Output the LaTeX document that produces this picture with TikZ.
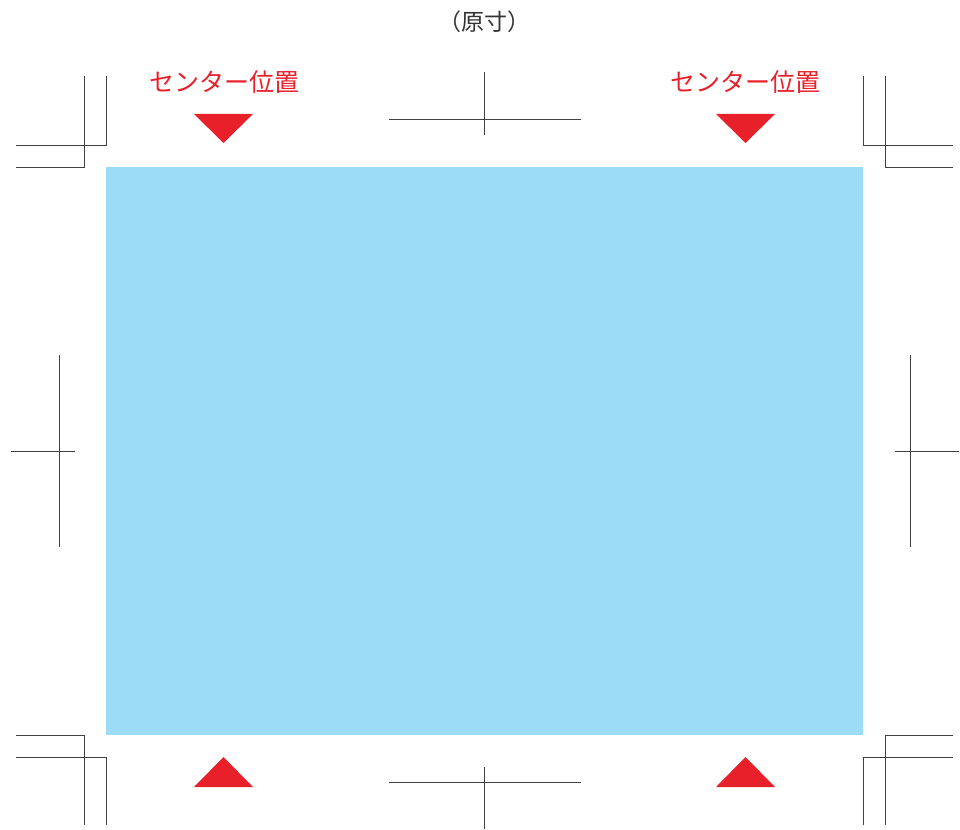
\documentclass[tikz,border=0pt]{standalone}
\usepackage{fontspec}
\newfontfamily\jpfont{Noto Sans CJK JP}
\usetikzlibrary{positioning}
\definecolor{MarkRed}{HTML}{E8202A}
\definecolor{PaperBlue}{HTML}{9DDCF7}

\begin{document}
\begin{tikzpicture}[x=1pt, y=-1pt,
  trim line/.style={line width=0.9pt, black!75},
  centre mark/.style={fill=MarkRed, draw=none},
  red label/.style={text=MarkRed, font=\jpfont\fontsize{25}{25}\selectfont, inner sep=0pt}]

\useasboundingbox (0,0) rectangle (960,829);

% Paper area
\def \xL {106}
\def \xR {863}
\def \yT {167}
\def \yB {735}
\def \xM {484.5}
\def \yM {451}
\fill[PaperBlue] (\xL,\yT) rectangle (\xR,\yB);

% Title
\node[font=\jpfont\fontsize{23}{23}\selectfont, text=black!80, inner sep=0pt] (title) at (\xM,22) {（原寸）};

% Corner marks, top left
\draw[trim line] (\xL,76) -- (\xL,145) -- (16,145);
\draw[trim line] (84,76) -- (84,\yT) -- (16,\yT);

% Corner marks, top right
\draw[trim line] (\xR,76) -- (\xR,145) -- (953,145);
\draw[trim line] (885,76) -- (885,\yT) -- (953,\yT);

% Corner marks, bottom left
\draw[trim line] (\xL,825) -- (\xL,757) -- (16,757);
\draw[trim line] (84,825) -- (84,\yB) -- (16,\yB);

% Corner marks, bottom right
\draw[trim line] (\xR,825) -- (\xR,757) -- (953,757);
\draw[trim line] (885,825) -- (885,\yB) -- (953,\yB);

% Centre marks, top and bottom
\draw[trim line] (\xM,72) -- (\xM,135);
\draw[trim line] (389,119) -- (581,119);
\draw[trim line] (\xM,767) -- (\xM,829);
\draw[trim line] (389,782) -- (581,782);

% Centre marks, left and right
\draw[trim line] (59,355) -- (59,547);
\draw[trim line] (11,\yM) -- (75,\yM);
\draw[trim line] (910,355) -- (910,547);
\draw[trim line] (895,\yM) -- (959,\yM);

% Labels
\node[red label] (labelL) at (224,82) {センター位置};
\node[red label] (labelR) at (745,82) {センター位置};

% Triangles, top
\fill[centre mark] (194,114) -- (253,114) -- (223.5,143) -- cycle;
\fill[centre mark] (716,114) -- (775,114) -- (745.5,143) -- cycle;

% Triangles, bottom
\fill[centre mark] (194,787) -- (253,787) -- (223.5,757) -- cycle;
\fill[centre mark] (716,787) -- (775,787) -- (745.5,757) -- cycle;

\end{tikzpicture}
\end{document}
